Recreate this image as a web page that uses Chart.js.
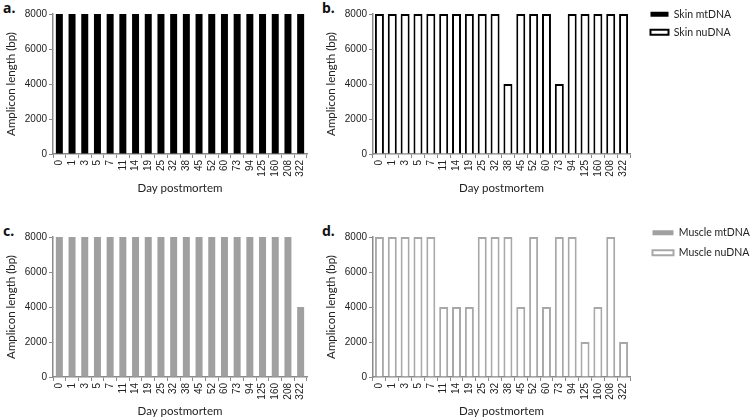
<!DOCTYPE html>
<html>
<head>
<meta charset="utf-8">
<script src="https://cdn.jsdelivr.net/npm/chart.js@4.4.1/dist/chart.umd.min.js"></script>
<style>
  body { margin: 0; background: #fff; width: 751px; height: 419px; position: relative; overflow: hidden; }
  canvas { position: absolute; }
  .tag { position: absolute; font: bold 14px "Noto Sans", sans-serif; line-height: 14px; color: #111; }
</style>
</head>
<body>
<div class="tag" style="left:3px;top:1px">a.</div>
<div class="tag" style="left:322px;top:1px">b.</div>
<div class="tag" style="left:3px;top:224px">c.</div>
<div class="tag" style="left:322px;top:224px">d.</div>
<canvas id="chartA" width="320" height="210" style="left:0;top:0"></canvas>
<canvas id="chartB" width="431" height="210" style="left:320px;top:0"></canvas>
<canvas id="chartC" width="320" height="210" style="left:0;top:223px"></canvas>
<canvas id="chartD" width="431" height="210" style="left:320px;top:223px"></canvas>
<script>
const days = ['0', '1', '3', '5', '7', '11', '14', '19', '25', '32', '38', '45', '52', '60', '73', '94', '125', '160', '208', '322'];
const skinMt = [8000, 8000, 8000, 8000, 8000, 8000, 8000, 8000, 8000, 8000, 8000, 8000, 8000, 8000, 8000, 8000, 8000, 8000, 8000, 8000];
const skinNu = [8000, 8000, 8000, 8000, 8000, 8000, 8000, 8000, 8000, 8000, 4000, 8000, 8000, 8000, 4000, 8000, 8000, 8000, 8000, 8000];
const muscleMt = [8000, 8000, 8000, 8000, 8000, 8000, 8000, 8000, 8000, 8000, 8000, 8000, 8000, 8000, 8000, 8000, 8000, 8000, 8000, 4000];
const muscleNu = [8000, 8000, 8000, 8000, 8000, 4000, 4000, 4000, 8000, 8000, 8000, 4000, 8000, 4000, 8000, 8000, 2000, 4000, 8000, 2000];

const axisColor = '#8a8a8a';
const tickFont = { family: '"Liberation Sans", Arial, sans-serif', size: 10 };
const titleFont = { family: 'Lato, "Noto Sans", sans-serif', size: 11.5 };
const legendFont = { family: 'Lato, "Noto Sans", sans-serif', size: 10.5 };

function scales() {
    return {
        x: {
            offset: true,
            grid: { display: true, drawOnChartArea: false, offset: true, tickLength: 4, color: axisColor },
            border: { display: true, color: axisColor, width: 1.5 },
            ticks: { autoSkip: false, minRotation: 90, maxRotation: 90, padding: 2, font: tickFont, color: '#222' },
            title: { display: true, text: 'Day postmortem', font: titleFont, color: '#222', padding: { top: 4, bottom: 4 } },
            afterFit: s => { s.height = 45; }
        },
        y: {
            min: 0,
            max: 8000,
            grid: { display: true, drawOnChartArea: false, tickLength: 4, color: axisColor },
            border: { display: true, color: axisColor, width: 1.5 },
            ticks: { stepSize: 2000, padding: 2, font: tickFont, color: '#222', callback: v => String(v) },
            title: { display: true, text: 'Amplicon length (bp)', font: titleFont, color: '#222', padding: { top: 4, bottom: 4 } },
            afterFit: s => { s.width = 53; }
        }
    };
}

// the legend sits right of the plot; push it into place after layout
function legendPlacer(dx, dy) {
    return {
        id: 'legendPlacer',
        beforeInit(chart) {
            const fit = chart.legend.fit;
            chart.legend.fit = function () {
                fit.call(this);
                this.width = 121;
            };
        },
        afterLayout(chart) {
            const l = chart.legend;
            l.left += dx; l.right += dx;
            l.top += dy; l.bottom += dy;
        }
    };
}

function renderSingle(id, data, color) {
    new Chart(id, {
        type: 'bar',
        data: {
            labels: days,
            datasets: [{ data: data, backgroundColor: color, borderWidth: 0, barPercentage: 0.55, categoryPercentage: 1 }]
        },
        options: {
            responsive: false,
            animation: false,
            layout: { padding: { left: 0, right: 13, top: 14, bottom: 11 } },
            plugins: { legend: { display: false }, tooltip: { enabled: false } },
            scales: scales()
        }
    });
}

function renderPair(id, mtLabel, mtColor, nuLabel, nuData, nuColor, boxWidth, spacing, dx, dy) {
    new Chart(id, {
        type: 'bar',
        data: {
            labels: days,
            datasets: [
                { label: mtLabel, data: [], backgroundColor: mtColor, borderColor: mtColor, borderWidth: 0 },
                { label: nuLabel, data: nuData, backgroundColor: '#ffffff', borderColor: nuColor, borderWidth: 2,
                  barPercentage: 0.7, categoryPercentage: 1 }
            ]
        },
        options: {
            responsive: false,
            animation: false,
            grouped: false,
            layout: { padding: { left: 0, right: 0, top: 14, bottom: 11 } },
            plugins: {
                legend: {
                    display: true,
                    position: 'right',
                    align: 'start',
                    labels: { boxWidth: boxWidth, boxHeight: 5, padding: spacing, font: legendFont, color: '#222' }
                },
                tooltip: { enabled: false }
            },
            scales: scales()
        },
        plugins: [legendPlacer(dx, dy)]
    });
}

renderSingle('chartA', skinMt, '#000000');
renderPair('chartB', 'Skin mtDNA', '#000000', 'Skin nuDNA', skinNu, '#000000', 18, 7.5, 13, -12.5);
renderSingle('chartC', muscleMt, '#a0a0a0');
renderPair('chartD', 'Muscle mtDNA', '#a0a0a0', 'Muscle nuDNA', muscleNu, '#a8a8a8', 21, 9.5, 13, -19);
</script>
</body>
</html>
